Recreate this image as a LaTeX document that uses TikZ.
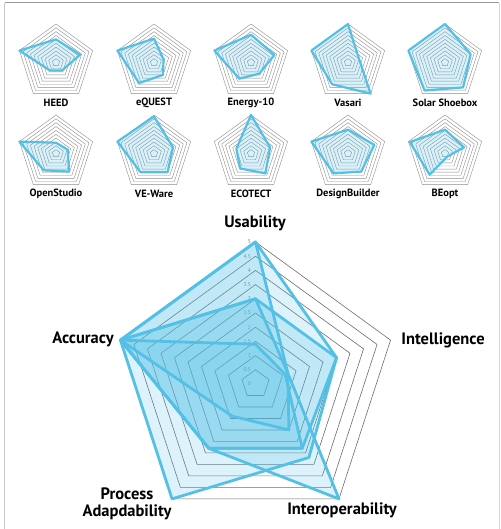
\documentclass[tikz,border=0pt]{standalone}
\usepackage{fontspec}
\setmainfont{PT Sans}
\definecolor{toolblue}{RGB}{84,192,230}
\tikzset{ring/.style={draw=gray!90,line width=0.4pt}}
\tikzset{bigring/.style={draw=gray!85!black,line width=0.6pt}}
\tikzset{tooldata/.style={draw=toolblue,line width=2.2pt,fill=toolblue,
                          fill opacity=0.22,line join=round}}
\tikzset{bigdata/.style={tooldata,line width=2.8pt,fill opacity=0.2}}
\tikzset{toolname/.style={font=\bfseries\fontsize{10.5}{11}\selectfont}}
\tikzset{axisname/.style={font=\bfseries\fontsize{16.5}{17}\selectfont,align=center}}
\tikzset{scalenum/.style={font=\fontsize{5.5}{6}\selectfont,text=gray,inner sep=0.5pt}}

\begin{document}
\begin{tikzpicture}[x=1pt,y=1pt]
    \useasboundingbox (0,0) rectangle (500,529);

    % frame
    \draw[gray!45,line width=0.8pt] (4.7,0) -- (4.7,526.3);
    \draw[gray!30,line width=0.6pt] (498.8,0) -- (498.8,526.3);
    \draw[gray!80,line width=0.9pt] (4.7,526.3) -- (498.8,526.3);

    % small charts: name/x/y/usability/intelligence/interop/process/accuracy
    \foreach \name/\cx/\cy/\u/\i/\n/\p/\a [count=\k] in {
        HEED/56/466.5/3/3.3/1.3/1.3/5,
        eQUEST/154/466.5/3.1/1.3/2.0/3.3/5,
        Energy-10/251/466.5/3.6/3.2/1.8/2.6/5,
        Vasari/348/466.5/5/1.5/5/3.5/5,
        Solar Shoebox/445/466.5/5/3.5/4/4.5/5,
        OpenStudio/56/375.5/1.4/1.6/2.9/2.7/5,
        VE-Ware/154/375.5/4.8/2.6/3/3/5,
        ECOTECT/251/375.5/5/2.6/3.2/2.4/2,
        DesignBuilder/348/375.5/3.1/3.6/2.9/3.2/5,
        BEopt/445/375.5/3.1/2.6/0.5/3.4/4.8}{
        \begin{scope}[shift={(\cx,\cy)}]
            \foreach \s in {1,...,10}{
                \draw[ring] ({90}:{\s*3.85}) -- ({18}:{\s*3.85}) -- ({-54}:{\s*3.85})
                    -- ({-126}:{\s*3.85}) -- ({162}:{\s*3.85}) -- cycle;
            }
            \draw[tooldata] ({90}:{\u*7.7}) -- ({18}:{\i*7.7}) -- ({-54}:{\n*7.7})
                -- ({-126}:{\p*7.7}) -- ({162}:{\a*7.7}) -- cycle;
        \end{scope}
        \node[toolname] (tool\k) at (\cx,\cy-40.5) {\name};
    }

    % big chart
    \begin{scope}[shift={(255.5,145)}]
        \foreach \s in {1,...,10}{
            \draw[bigring] ({90}:{\s*14.2}) -- ({18}:{\s*14.2}) -- ({-54}:{\s*14.2})
                -- ({-126}:{\s*14.2}) -- ({162}:{\s*14.2}) -- cycle;
        }
        % scale
        \foreach \v [count=\vi] in {0,0.5,1,1.5,2,2.5,3,3.5,4,4.5,5}{
            \node[scalenum,anchor=east] (num\vi) at (-4,\v*28.4) {\v};
        }
        % tools
        \foreach \u/\i/\n/\p/\a in {5/3/2.8/2.8/5, 3/1.2/5/2.8/5, 5/1.2/2/1.4/5,
                                    3/3/3.2/5/5, 1.4/1.1/2.8/2.8/5}{
            \draw[bigdata] ({90}:{\u*28.4}) -- ({18}:{\i*28.4}) -- ({-54}:{\n*28.4})
                -- ({-126}:{\p*28.4}) -- ({162}:{\a*28.4}) -- cycle;
        }
    \end{scope}

    % Labels
    \node[axisname] (usab) at (255,306) {Usability};
    \node[axisname] (intel) at (443,189) {Intelligence};
    \node[axisname] (accur) at (83,190) {Accuracy};
    \node[axisname] (proc) at (127,25) {Process\\Adapdability};
    \node[axisname] (inter) at (342,19) {Interoperability};
\end{tikzpicture}
\end{document}
